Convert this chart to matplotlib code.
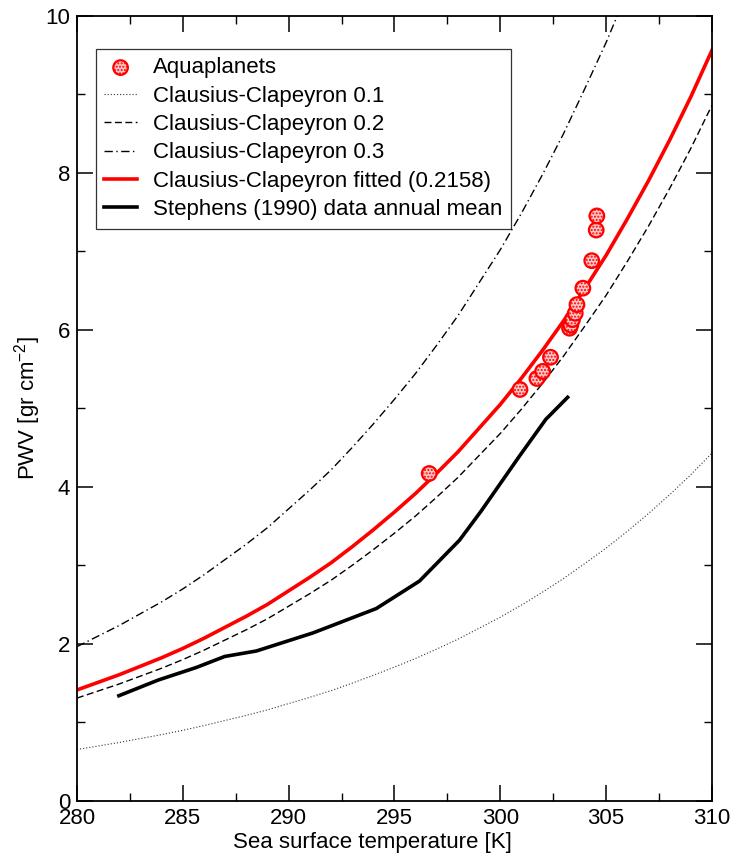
import numpy as np
import matplotlib
matplotlib.use("Agg")
import matplotlib.pyplot as plt
from matplotlib.ticker import MultipleLocator

plt.rcParams['font.family'] = ['Liberation Sans', 'DejaVu Sans']
plt.rcParams['mathtext.fontset'] = 'custom'
plt.rcParams['mathtext.rm'] = 'Liberation Sans'
plt.rcParams['mathtext.it'] = 'Liberation Sans:italic'

# aquaplanet runs (SST [K], PWV [gr cm-2])
aqua_sst = [296.64, 300.93, 301.73, 302.00, 302.37, 303.27, 303.33, 303.41,
            303.54, 303.62, 303.90, 304.32, 304.53, 304.56]
aqua_pwv = [4.17, 5.24, 5.38, 5.47, 5.65, 6.02, 6.06, 6.13,
            6.21, 6.32, 6.53, 6.88, 7.27, 7.45]

# Stephens (1990) annual mean
steph_sst = [281.98, 283.84, 285.64, 286.98, 288.48, 291.15, 294.14,
             296.18, 298.07, 299.09, 300.90, 302.15, 303.18]
steph_pwv = [1.34, 1.54, 1.70, 1.84, 1.91, 2.14, 2.45,
             2.80, 3.32, 3.69, 4.39, 4.86, 5.14]

# Clausius-Clapeyron curve with coefficient 0.2, every 1 K
cc_sst = list(range(280, 311))
cc02_pwv = [1.31, 1.40, 1.49, 1.59, 1.69, 1.80, 1.92, 2.05, 2.18, 2.32,
            2.48, 2.64, 2.81, 3.00, 3.20, 3.41, 3.63, 3.87, 4.12, 4.40,
            4.68, 4.99, 5.32, 5.67, 6.05, 6.44, 6.87, 7.32, 7.80, 8.31,
            8.86]
cc_coefs = [0.1, 0.2, 0.3]
fit_coef = 0.2158

fig = plt.figure(figsize=(7.31, 8.56), dpi=100)
ax = fig.add_axes([0.1053, 0.0643, 0.8687, 0.9174])

base = np.array(cc02_pwv) / 0.2
styles = [dict(color='#333333', lw=0.8, dashes=(1, 1.8)),
          dict(color='black', lw=1.0, dashes=(5, 2.5)),
          dict(color='black', lw=1.0, dashes=(6, 2.5, 1, 2.5))]

ax.scatter(aqua_sst, aqua_pwv, s=110, facecolor='#ffc8c8', edgecolor='red',
           hatch='.....', linewidths=1.6, zorder=5, label='Aquaplanets')
for c, st in zip(cc_coefs, styles):
    ax.plot(cc_sst, base * c, label=f'Clausius-Clapeyron {c}', **st)
ax.plot(cc_sst, base * fit_coef, color='red', lw=2.6,
        label=f'Clausius-Clapeyron fitted ({fit_coef})')
ax.plot(steph_sst, steph_pwv, color='black', lw=2.6,
        label='Stephens (1990) data annual mean')

ax.set_xlim(280, 310)
ax.set_ylim(0, 10)
ax.xaxis.set_major_locator(MultipleLocator(5))
ax.xaxis.set_minor_locator(MultipleLocator(2.5))
ax.yaxis.set_major_locator(MultipleLocator(2))
ax.yaxis.set_minor_locator(MultipleLocator(1))
ax.tick_params(which='both', direction='in', top=True, right=True,
               labelsize=16)
ax.tick_params(which='major', length=11.5, width=1.1, pad=5)
ax.tick_params(which='minor', length=5.8, width=1.0)
for sp in ax.spines.values():
    sp.set_linewidth(1.3)

ax.set_xlabel('Sea surface temperature [K]', fontsize=16)
ax.xaxis.set_label_coords(0.466, -0.040)
ax.set_ylabel(r'PWV [gr cm$^{-2}$]', fontsize=16)
ax.yaxis.set_label_coords(-0.053, 0.5)

leg = ax.legend(loc='upper left', bbox_to_anchor=(0.030, 0.9576),
                borderaxespad=0, fontsize=16, frameon=True, fancybox=False,
                handlelength=1.45, handletextpad=0.72, labelspacing=0.33,
                borderpad=0.38, scatterpoints=1)
leg.get_frame().set_edgecolor('black')
leg.get_frame().set_linewidth(0.9)

fig.savefig('out.png', dpi=100)
